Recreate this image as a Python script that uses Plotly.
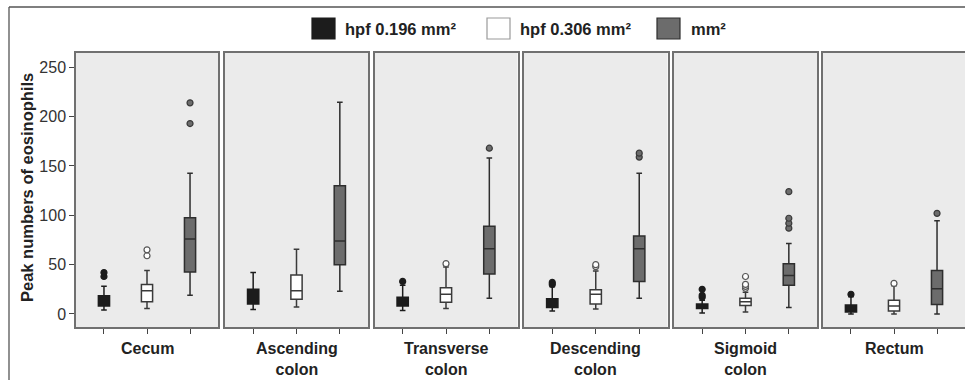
import plotly.graph_objects as go

W, H = 965, 380

regions = ["Cecum", "Ascending<br>colon", "Transverse<br>colon", "Descending<br>colon",
           "Sigmoid<br>colon", "Rectum"]
series_names = ["hpf 0.196 mm²", "hpf 0.306 mm²", "mm²"]

# box statistics per region (Cecum .. Rectum)
q1_a = [8, 10, 8, 6.5, 5.5, 2]
med_a = [13, 17, 12, 11, 8, 5]
q3_a = [18.5, 25, 17, 15.5, 10, 9]
lo_a = [4, 4.5, 3.5, 3, 1, 0]
hi_a = [28, 42, 29, 27.5, 14, 17.5]
out_a = [[38, 42], [], [33], [30, 32], [17, 19, 25], [20]]

q1_b = [12.5, 15, 12, 10, 8.5, 3]
med_b = [23.5, 23.5, 20, 20, 12.5, 8]
q3_b = [30, 39.5, 26.5, 24.5, 16, 14]
lo_b = [5.5, 7, 5.5, 5, 2, 0]
hi_b = [44, 65.5, 47.5, 43.5, 22, 28.5]
out_b = [[59, 65], [], [51], [48, 50], [26, 28, 30, 38], [31]]

q1_c = [42.5, 50, 40.5, 33, 29, 9.5]
med_c = [76, 74, 66, 66, 39, 25.5]
q3_c = [97.5, 130, 89, 79, 51, 44]
lo_c = [19, 23, 16, 16, 6.5, 0]
hi_c = [142.5, 214.5, 158, 142.5, 71.5, 94.5]
out_c = [[193, 214], [], [168], [159, 163], [87, 92, 97, 124], [102]]

y_ticks = [0, 50, 100, 150, 200, 250]

series = [
    dict(q1=q1_a, med=med_a, q3=q3_a, lo=lo_a, hi=hi_a, out=out_a,
         fill="#1c1c1c", line="#1c1c1c", mfill="#1c1c1c", mline="#1c1c1c"),
    dict(q1=q1_b, med=med_b, q3=q3_b, lo=lo_b, hi=hi_b, out=out_b,
         fill="#ffffff", line="#3a3a3a", mfill="#ffffff", mline="#555555"),
    dict(q1=q1_c, med=med_c, q3=q3_c, lo=lo_c, hi=hi_c, out=out_c,
         fill="#6c6c6c", line="#2e2e2e", mfill="#6c6c6c", mline="#3a3a3a"),
]

# panel pixel extents
panels_px = [(76, 218), (225, 368), (374.5, 517.5), (524, 667.5), (674, 817), (823, 965)]
y_dom = [(H - 327) / H, (H - 53) / H]

fig = go.Figure()
for p in range(6):
    xa = "x" if p == 0 else f"x{p+1}"
    ya = "y" if p == 0 else f"y{p+1}"
    for s, sd in enumerate(series):
        fig.add_trace(go.Box(
            x=[s], q1=[sd["q1"][p]], median=[sd["med"][p]], q3=[sd["q3"][p]],
            lowerfence=[sd["lo"][p]], upperfence=[sd["hi"][p]],
            width=0.26, whiskerwidth=0.5,
            fillcolor=sd["fill"], line=dict(color=sd["line"], width=1.5),
            xaxis=xa, yaxis=ya, showlegend=False, hoverinfo="skip"))
        if sd["out"][p]:
            fig.add_trace(go.Scatter(
                x=[s] * len(sd["out"][p]), y=sd["out"][p], mode="markers",
                marker=dict(size=6, color=sd["mfill"],
                            line=dict(color=sd["mline"], width=1.2)),
                xaxis=xa, yaxis=ya, showlegend=False, hoverinfo="skip"))

layout = dict(
    width=W, height=H, margin=dict(l=0, r=0, t=0, b=0),
    paper_bgcolor="white", plot_bgcolor="#ebebeb",
    font=dict(family="Liberation Sans, Arial, sans-serif", color="#222222"),
    showlegend=False,
)
for p in range(6):
    xk = "xaxis" if p == 0 else f"xaxis{p+1}"
    yk = "yaxis" if p == 0 else f"yaxis{p+1}"
    x0, x1 = panels_px[p]
    layout[xk] = dict(
        domain=[x0 / W, min(x1 / W, 1.0)], range=[-0.65, 2.65],
        anchor="y" if p == 0 else f"y{p+1}",
        tickvals=[0, 1, 2], ticks="outside", ticklen=5, tickwidth=1.2,
        tickcolor="#444444", showticklabels=False,
        showline=True, mirror=True, linecolor="#707070", linewidth=1.5,
        showgrid=False, zeroline=False, fixedrange=True)
    ydict = dict(
        domain=list(y_dom), range=[-13.2, 264.5],
        anchor="x" if p == 0 else f"x{p+1}",
        showline=True, mirror=(p < 5), linecolor="#707070", linewidth=1.5,
        showgrid=False, zeroline=False, fixedrange=True)
    if p == 0:
        ydict.update(tickvals=y_ticks, ticks="outside", ticklen=5, tickwidth=1.2,
                     tickcolor="#444444",
                     tickfont=dict(size=16, color="#333333"))
    else:
        ydict.update(matches="y", showticklabels=False, ticks="")
    layout[yk] = ydict

fig.update_layout(**layout)

# region labels under each panel
for p in range(6):
    x0, x1 = panels_px[p]
    cx = (x0 + x1) / 2 if p < 5 else x0 + 71.5
    fig.add_annotation(
        x=cx / W, y=(H - 338) / H, xref="paper", yref="paper",
        text=f"<b>{regions[p]}</b>", showarrow=False,
        xanchor="center", yanchor="top",
        font=dict(size=16, color="#222222"))

# y-axis title
fig.add_annotation(
    x=27 / W, y=(H - 188) / H, xref="paper", yref="paper",
    text="<b>Peak numbers of eosinophils</b>", textangle=-90, showarrow=False,
    xanchor="center", yanchor="middle", font=dict(size=16.5, color="#222222"))

# legend: swatches and labels
legend_px = [(312, 343), (487, 518), (657, 689)]
sw_fill = ["#1c1c1c", "#ffffff", "#6c6c6c"]
sw_line = ["#1c1c1c", "#9a9a9a", "#2e2e2e"]
shapes = []
for i, (sx, tx) in enumerate(legend_px):
    shapes.append(dict(type="rect", xref="paper", yref="paper",
                       x0=sx / W, x1=(sx + 23) / W, y0=(H - 39) / H, y1=(H - 18) / H,
                       fillcolor=sw_fill[i], line=dict(color=sw_line[i], width=1.2)))
    fig.add_annotation(
        x=tx / W, y=(H - 29) / H, xref="paper", yref="paper",
        text=f"<b>{series_names[i]}</b>", showarrow=False,
        xanchor="left", yanchor="middle", font=dict(size=16.5, color="#222222"))

# outer frame lines
shapes.append(dict(type="line", xref="paper", yref="paper",
                   x0=9 / W, x1=9 / W, y0=0, y1=(H - 7) / H,
                   line=dict(color="#555555", width=1.3)))
shapes.append(dict(type="line", xref="paper", yref="paper",
                   x0=9 / W, x1=1.0, y0=(H - 7) / H, y1=(H - 7) / H,
                   line=dict(color="#555555", width=1.3)))
fig.update_layout(shapes=shapes)

fig.write_html("out.html", config=dict(displayModeBar=False),
               post_script="document.body.style.margin='0px';document.body.style.overflow='hidden';")
